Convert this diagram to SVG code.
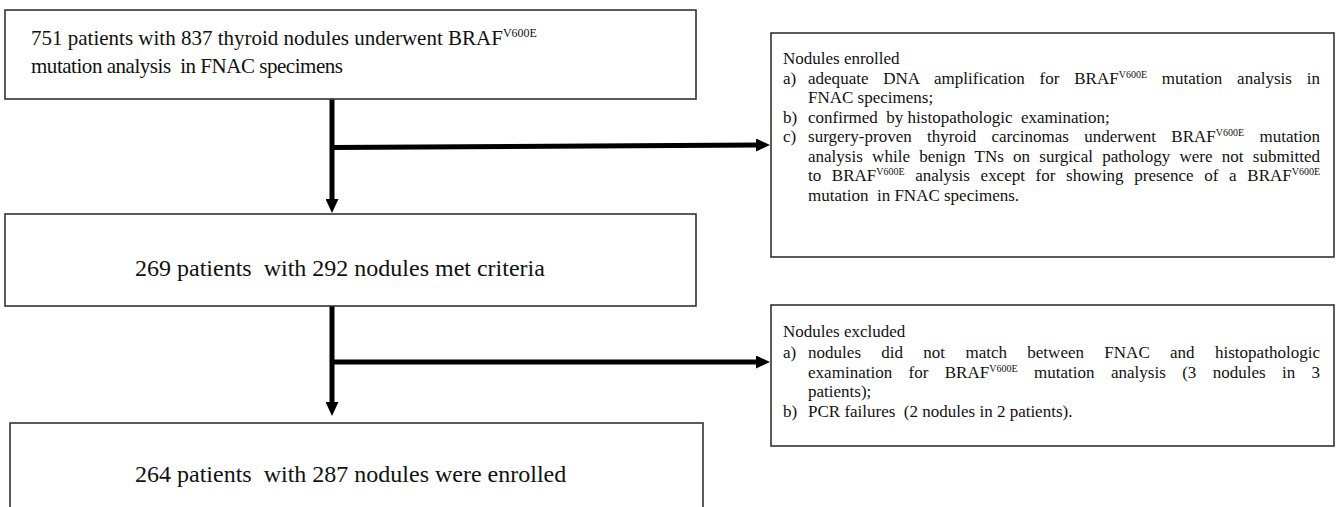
<svg xmlns="http://www.w3.org/2000/svg" width="1338" height="507" viewBox="0 0 1338 507">
<defs>
<style>
.box{fill:#fff;stroke:#333;stroke-width:1.6}
text{font-family:'Liberation Serif','Times New Roman',serif;fill:#111}
.big{font-size:21px}
.mid{font-size:24px}
.sm{font-size:17px}
.sup{font-size:10px}
.ln{stroke:#000;stroke-width:5;fill:none}
</style>
<marker id="ah" markerUnits="userSpaceOnUse" markerWidth="14" markerHeight="13" refX="3" refY="6.5" orient="auto">
<path d="M0,0 L14,6.5 L0,13 z" fill="#000"/>
</marker>
</defs>
<g id="connectors">
<line class="ln" x1="332" y1="99" x2="332" y2="202" marker-end="url(#ah)"/>
<line class="ln" x1="332" y1="147.5" x2="759" y2="145" marker-end="url(#ah)"/>
<line class="ln" x1="332" y1="306" x2="332" y2="405" marker-end="url(#ah)"/>
<line class="ln" x1="332" y1="362" x2="759" y2="362" marker-end="url(#ah)"/>
</g>
<g id="n1">
<rect class="box" x="5" y="10" width="691" height="89"/>
<text class="big" x="31" y="45">751 patients with 837 thyroid nodules underwent BRAF<tspan font-size="12" dy="-8">V600E</tspan></text>
<text class="big" x="31" y="73" xml:space="preserve" textLength="312" lengthAdjust="spacing">mutation analysis  in FNAC specimens</text>
</g>
<g id="n2">
<rect class="box" x="5" y="214" width="691" height="92"/>
<text class="mid" x="135" y="276" xml:space="preserve">269 patients  with 292 nodules met criteria</text>
</g>
<g id="n3">
<rect class="box" x="10" y="423" width="693" height="100"/>
<text class="mid" x="135" y="482" xml:space="preserve">264 patients  with 287 nodules were enrolled</text>
</g>
<g id="n4">
<rect class="box" x="771" y="33" width="563" height="224"/>
<text class="sm" x="783" y="64">Nodules enrolled</text>
<text class="sm" x="783" y="83.5">a)</text>
<text class="sm" x="808" y="83.5" word-spacing="10.5" textLength="512" lengthAdjust="spacing">adequate DNA amplification for BRAF<tspan class="sup" dy="-6">V600E</tspan><tspan dy="6"> mutation analysis in</tspan></text>
<text class="sm" x="808" y="103">FNAC specimens;</text>
<text class="sm" x="783" y="122.5">b)</text>
<text class="sm" x="808" y="122.5" xml:space="preserve">confirmed  by histopathologic  examination;</text>
<text class="sm" x="783" y="142">c)</text>
<text class="sm" x="808" y="142" word-spacing="11" textLength="512" lengthAdjust="spacing">surgery-proven thyroid carcinomas underwent BRAF<tspan class="sup" dy="-6">V600E</tspan><tspan dy="6"> mutation</tspan></text>
<text class="sm" x="808" y="161.5" word-spacing="5" textLength="512" lengthAdjust="spacing">analysis while benign TNs on surgical pathology were not submitted</text>
<text class="sm" x="808" y="181" word-spacing="6.4" textLength="512" lengthAdjust="spacing">to BRAF<tspan class="sup" dy="-6">V600E</tspan><tspan dy="6"> analysis except for showing presence of a BRAF</tspan><tspan class="sup" dy="-6">V600E</tspan></text>
<text class="sm" x="808" y="200.5" xml:space="preserve">mutation  in FNAC specimens.</text>
</g>
<g id="n5">
<rect class="box" x="771" y="305" width="563" height="141"/>
<text class="sm" x="783" y="337">Nodules excluded</text>
<text class="sm" x="783" y="358">a)</text>
<text class="sm" x="808" y="358" word-spacing="16" textLength="512" lengthAdjust="spacing">nodules did not match between FNAC and histopathologic</text>
<text class="sm" x="808" y="378" word-spacing="12" textLength="512" lengthAdjust="spacing">examination for BRAF<tspan class="sup" dy="-6">V600E</tspan><tspan dy="6"> mutation analysis (3 nodules in 3</tspan></text>
<text class="sm" x="808" y="397">patients);</text>
<text class="sm" x="783" y="417">b)</text>
<text class="sm" x="808" y="417" xml:space="preserve">PCR failures  (2 nodules in 2 patients).</text>
</g>
</svg>
